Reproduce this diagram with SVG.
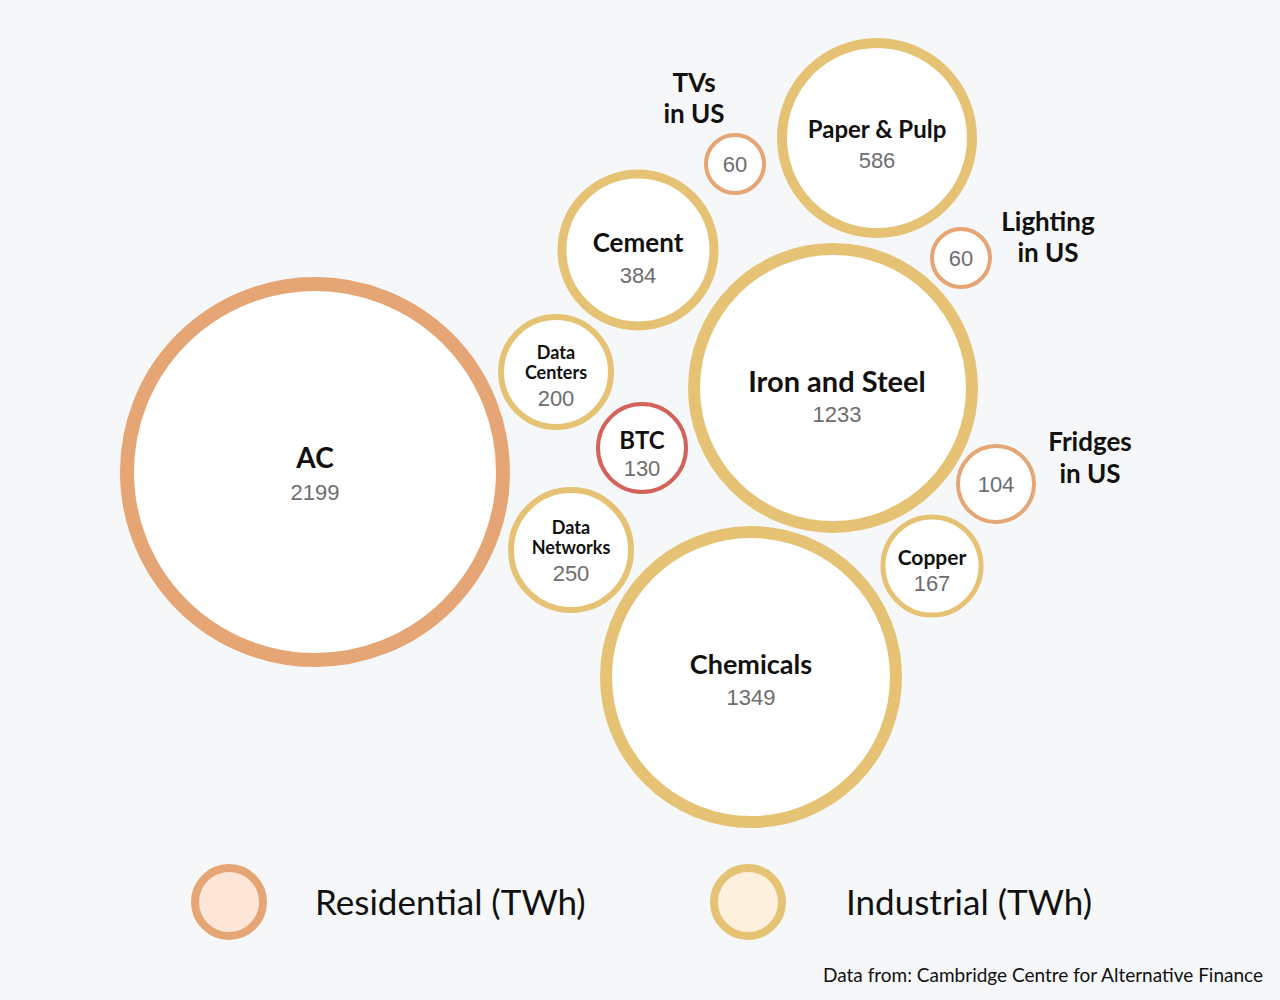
<svg xmlns="http://www.w3.org/2000/svg" width="1280" height="1000" viewBox="0 0 1280 1000">
<style>
.res{fill:#fff;stroke:#e6a574}
.ind{fill:#fff;stroke:#e6c274}
.btc{fill:#fff;stroke:#d5615a}
.lab{font-family:Lato,"Open Sans",sans-serif;font-weight:bold;fill:#111;text-anchor:middle}
.num{font-family:"Liberation Sans",Arial,sans-serif;fill:#6e6e6e;text-anchor:middle}
.leg{font-family:Lato,"Open Sans",sans-serif;fill:#111;font-size:35px}
</style>
<rect width="1280" height="1000" fill="#f5f7f9"/>
<g id="ac"><circle class="res" cx="315" cy="472" r="188" stroke-width="14"/><text class="lab" x="315" y="468" font-size="28">AC</text><text class="num" x="315" y="500" font-size="22">2199</text></g>
<g id="chemicals"><circle class="ind" cx="751" cy="677" r="145" stroke-width="12"/><text class="lab" x="751" y="674" font-size="27">Chemicals</text><text class="num" x="751" y="705" font-size="22">1349</text></g>
<g id="iron"><circle class="ind" cx="833" cy="388" r="139" stroke-width="12"/><text class="lab" x="837" y="392" font-size="29">Iron and Steel</text><text class="num" x="837" y="422" font-size="22">1233</text></g>
<g id="paper"><circle class="ind" cx="877" cy="138" r="95" stroke-width="10"/><text class="lab" x="877" y="138" font-size="24">Paper &amp; Pulp</text><text class="num" x="877" y="168" font-size="22">586</text></g>
<g id="cement"><circle class="ind" cx="638" cy="250" r="76" stroke-width="9"/><text class="lab" x="638" y="252" font-size="26">Cement</text><text class="num" x="638" y="283" font-size="22">384</text></g>
<g id="datacenters"><circle class="ind" cx="556" cy="372" r="55" stroke-width="6"/><text class="lab" x="556" y="359" font-size="18">Data</text><text class="lab" x="556" y="379" font-size="18">Centers</text><text class="num" x="556" y="406" font-size="22">200</text></g>
<g id="btc"><circle class="btc" cx="642" cy="448" r="44" stroke-width="4"/><text class="lab" x="642" y="449" font-size="24">BTC</text><text class="num" x="642" y="476" font-size="22">130</text></g>
<g id="datanetworks"><circle class="ind" cx="571" cy="550" r="60" stroke-width="6"/><text class="lab" x="571" y="534" font-size="18">Data</text><text class="lab" x="571" y="554" font-size="18">Networks</text><text class="num" x="571" y="581" font-size="22">250</text></g>
<g id="copper"><circle class="ind" cx="932" cy="566" r="49" stroke-width="5"/><text class="lab" x="932" y="565" font-size="21">Copper</text><text class="num" x="932" y="591" font-size="22">167</text></g>
<g id="fridges"><circle class="res" cx="996" cy="484" r="38" stroke-width="4"/><text class="num" x="996" y="492" font-size="22">104</text><text class="lab" x="1090" y="451" font-size="26">Fridges</text><text class="lab" x="1090" y="483" font-size="26">in US</text></g>
<g id="lighting"><circle class="res" cx="961" cy="258" r="29" stroke-width="4"/><text class="num" x="961" y="266" font-size="22">60</text><text class="lab" x="1048" y="231" font-size="26">Lighting</text><text class="lab" x="1048" y="262" font-size="26">in US</text></g>
<g id="tvs"><circle class="res" cx="735" cy="164" r="29" stroke-width="4"/><text class="num" x="735" y="172" font-size="22">60</text><text class="lab" x="694" y="92" font-size="26">TVs</text><text class="lab" x="694" y="123" font-size="26">in US</text></g>
<g id="connectors"/>
<g id="legend">
<circle cx="229" cy="902" r="34" fill="#fde5d7" stroke="#e6a574" stroke-width="8"/>
<text class="leg" x="315" y="915">Residential (TWh)</text>
<circle cx="748" cy="902" r="34" fill="#fdf1dd" stroke="#e6c274" stroke-width="8"/>
<text class="leg" x="846" y="915">Industrial (TWh)</text>
<text x="1263" y="982" font-family="Lato,'Open Sans',sans-serif" font-size="19" fill="#111" text-anchor="end">Data from: Cambridge Centre for Alternative Finance</text>
</g>
</svg>
